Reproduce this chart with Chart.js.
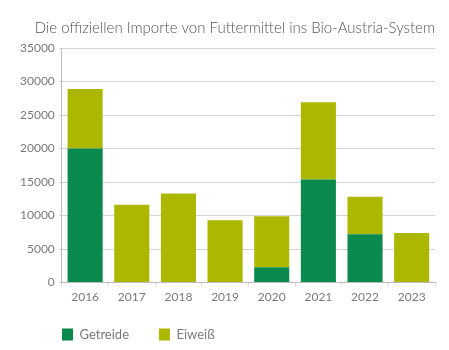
<!DOCTYPE html>
<html>
<head>
<meta charset="utf-8">
<script src="https://cdn.jsdelivr.net/npm/chart.js@4/dist/chart.umd.min.js"></script>
<style>
  html, body { margin: 0; padding: 0; background: #fff; }
  #wrap { width: 449px; height: 350px; }
</style>
</head>
<body>
<div id="wrap"><canvas id="myChart" width="449" height="350"></canvas></div>
<script>
// Daten
const jahre = ['2016', '2017', '2018', '2019', '2020', '2021', '2022', '2023'];
const getreide = [20000, 0, 0, 0, 2300, 15400, 7200, 0];
const eiweiss = [8900, 11600, 13300, 9300, 7600, 11500, 5600, 7400];
const yTicks = [0, 5000, 10000, 15000, 20000, 25000, 30000, 35000];

const grau = '#7a7a7a';
const schrift = 'Lato, "Open Sans", sans-serif';

// Legende etwas nach rechts und unten schieben
const legendeVerschieben = {
    id: 'legendeVerschieben',
    afterLayout(chart) {
        chart.legend.left += 36;
        chart.legend.right += 36;
        chart.legend.top += 11;
        chart.legend.bottom += 11;
    },
};

const ctx = document.getElementById('myChart').getContext('2d');

new Chart(ctx, {
    type: 'bar',
    data: {
        labels: jahre,
        datasets: [
            {
                label: 'Getreide',
                data: getreide,
                backgroundColor: '#0a8a4c',
                barPercentage: 0.94,
                categoryPercentage: 0.8,
            },
            {
                label: 'Eiweiß',
                data: eiweiss,
                backgroundColor: '#acb800',
                barPercentage: 0.94,
                categoryPercentage: 0.8,
            },
        ],
    },
    options: {
        responsive: false,
        animation: false,
        layout: { padding: { left: 16, right: 14, top: 14, bottom: 10 } },
        plugins: {
            title: {
                display: true,
                text: 'Die offiziellen Importe von Futtermittel ins Bio-Austria-System',
                align: 'end',
                color: '#555',
                font: { family: schrift, size: 15, weight: '300' },
                padding: { top: 5, bottom: 11 },
            },
            legend: {
                display: true,
                position: 'bottom',
                align: 'start',
                labels: {
                    boxWidth: 11,
                    boxHeight: 12,
                    padding: 10,
                    color: grau,
                    font: { family: schrift, size: 13 },
                    generateLabels(chart) {
                        const items = Chart.defaults.plugins.legend.labels.generateLabels(chart);
                        items.forEach(it => { it.text = it.text + '      '; });
                        return items;
                    },
                },
            },
            tooltip: { enabled: false },
        },
        scales: {
            x: {
                stacked: true,
                grid: {
                    display: true,
                    drawOnChartArea: false,
                    drawTicks: true,
                    tickLength: 4,
                    color: '#ddd',
                },
                border: { color: '#bbb' },
                ticks: { color: grau, font: { family: schrift, size: 12 }, padding: 3 },
            },
            y: {
                stacked: true,
                min: 0,
                max: 35000,
                afterBuildTicks(axis) {
                    axis.ticks = yTicks.map(v => ({ value: v }));
                },
                grid: { color: '#d4d4d4', tickLength: 3 },
                border: { color: '#bbb' },
                ticks: {
                    color: grau,
                    font: { family: schrift, size: 12 },
                    padding: 4,
                    callback: v => String(v),
                },
            },
        },
    },
    plugins: [legendeVerschieben],
});
</script>
</body>
</html>
